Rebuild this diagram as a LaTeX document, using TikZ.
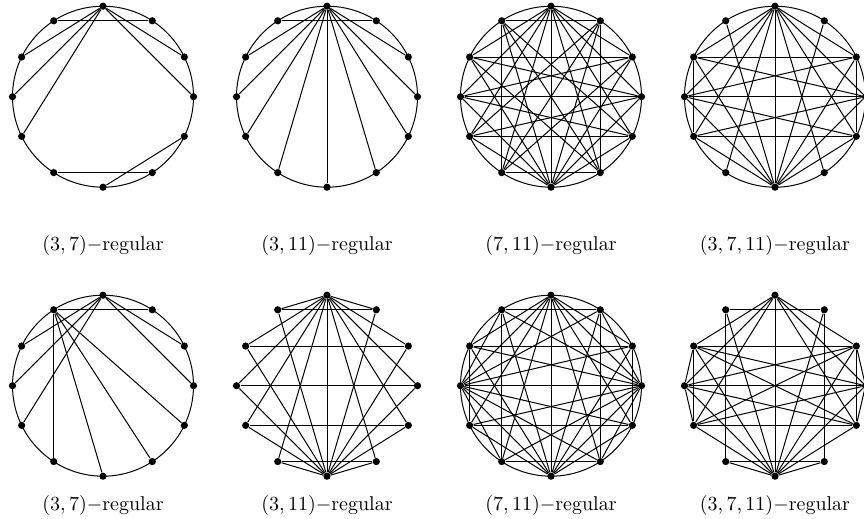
\documentclass[tikz,border=0pt]{standalone}
\newcommand\mkverts[3]{%
  \foreach \k/\ang in {0/90,1/57,2/26,3/0,4/-26,5/-57,6/-90,7/-123,8/-154,9/180,10/154,11/123}
    {\node[vtx] (#1v\k) at ({#2+90.5*cos(\ang)},{#3-90.5*sin(\ang)}) {};}%
  \coordinate (#1c) at (#2,#3);}
\newcommand\mkedges[2]{\foreach \p/\q in {#2} {\draw[edge] (#1v\p) -- (#1v\q);}}
\begin{document}
\begin{tikzpicture}[x=0.5pt,y=-0.5pt,
  vtx/.style={circle,fill=black,inner sep=0pt,minimum size=3.6pt},
  edge/.style={line width=0.5pt},
  rim/.style={line width=0.5pt},
  lab/.style={font=\normalsize}]
\useasboundingbox (0,0) rectangle (864,519);
% ---- row 1 ----
\mkverts{A}{103}{96.7}
\draw[rim] (Ac) circle[radius=45.25pt];
\mkedges{A}{0/10,0/9,0/8,0/2,0/3,11/1,7/5,6/4}
\node[lab] (Alab) at (103,246) {$(3,7)-$regular};

\mkverts{B}{327}{96.7}
\draw[rim] (Bc) circle[radius=45.25pt];
\mkedges{B}{0/2,0/3,0/4,0/5,0/6,0/7,0/8,0/9,0/10,11/1}
\node[lab] (Blab) at (327,246) {$(3,11)-$regular};

\mkverts{C}{551}{96.7}
\draw[rim] (Cc) circle[radius=45.25pt];
\mkedges{C}{0/2,0/3,0/4,0/5,0/6,0/7,0/8,0/9,0/10,
  6/8,6/9,6/10,6/11,6/1,6/2,6/3,6/4,
  11/1,10/2,9/3,8/4,7/5,11/7,1/5,
  1/8,2/7,3/8,4/9,5/10,2/9,3/10,4/11,11/5,1/7}
\node[lab] (Clab) at (551,246) {$(7,11)-$regular};

\mkverts{D}{775}{96.7}
\draw[rim] (Dc) circle[radius=45.25pt];
\mkedges{D}{0/2,0/3,0/4,0/5,0/6,0/7,0/8,0/9,0/10,
  6/8,6/9,6/10,6/11,6/1,6/2,6/3,6/4,
  10/2,9/3,8/4,10/8,2/4,10/3,9/2,9/4,8/3}
\node[lab] (Dlab) at (775,246) {$(3,7,11)-$regular};

% ---- row 2 ----
\mkverts{E}{103}{385.7}
\draw[rim] (Ec) circle[radius=45.25pt];
\mkedges{E}{0/10,0/9,0/8,0/2,0/3,11/1,11/7,11/6,11/5,11/4}
\node[lab] (Elab) at (103,505) {$(3,7)-$regular};

\mkverts{F}{327}{385.7}
\mkedges{F}{0/1,0/2,0/3,0/4,0/5,0/6,0/7,0/8,0/9,0/10,0/11,
  6/1,6/2,6/3,6/4,6/5,6/7,6/8,6/9,6/10,6/11,
  11/1,10/2,9/3,8/4,7/5}
\node[lab] (Flab) at (327,505) {$(3,11)-$regular};

\mkverts{G}{551}{385.7}
\draw[rim] (Gc) circle[radius=45.25pt];
\mkedges{G}{0/2,0/3,0/4,0/5,0/6,0/7,0/8,0/9,0/10,
  3/1,3/5,3/6,3/7,3/8,3/9,3/10,3/11,
  6/1,6/2,6/4,6/8,6/9,6/10,6/11,
  9/1,9/2,9/4,9/5,9/7,9/11,
  11/1,10/2,8/4,7/5,11/7,10/8,2/4,1/5}
\node[lab] (Glab) at (551,505) {$(7,11)-$regular};

\mkverts{H}{775}{385.7}
\mkedges{H}{6/0,6/1,6/2,6/3,6/4,6/5,6/7,6/8,6/9,6/10,6/11,
  0/2,0/3,0/4,0/8,0/9,0/10,
  11/1,11/7,1/5,7/5,10/9,9/8,2/3,3/4,
  10/2,9/3,8/4,10/8,2/4,10/3,9/2,9/4,8/3,10/4,8/2}
\node[lab] (Hlab) at (775,505) {$(3,7,11)-$regular};
\end{tikzpicture}
\end{document}
